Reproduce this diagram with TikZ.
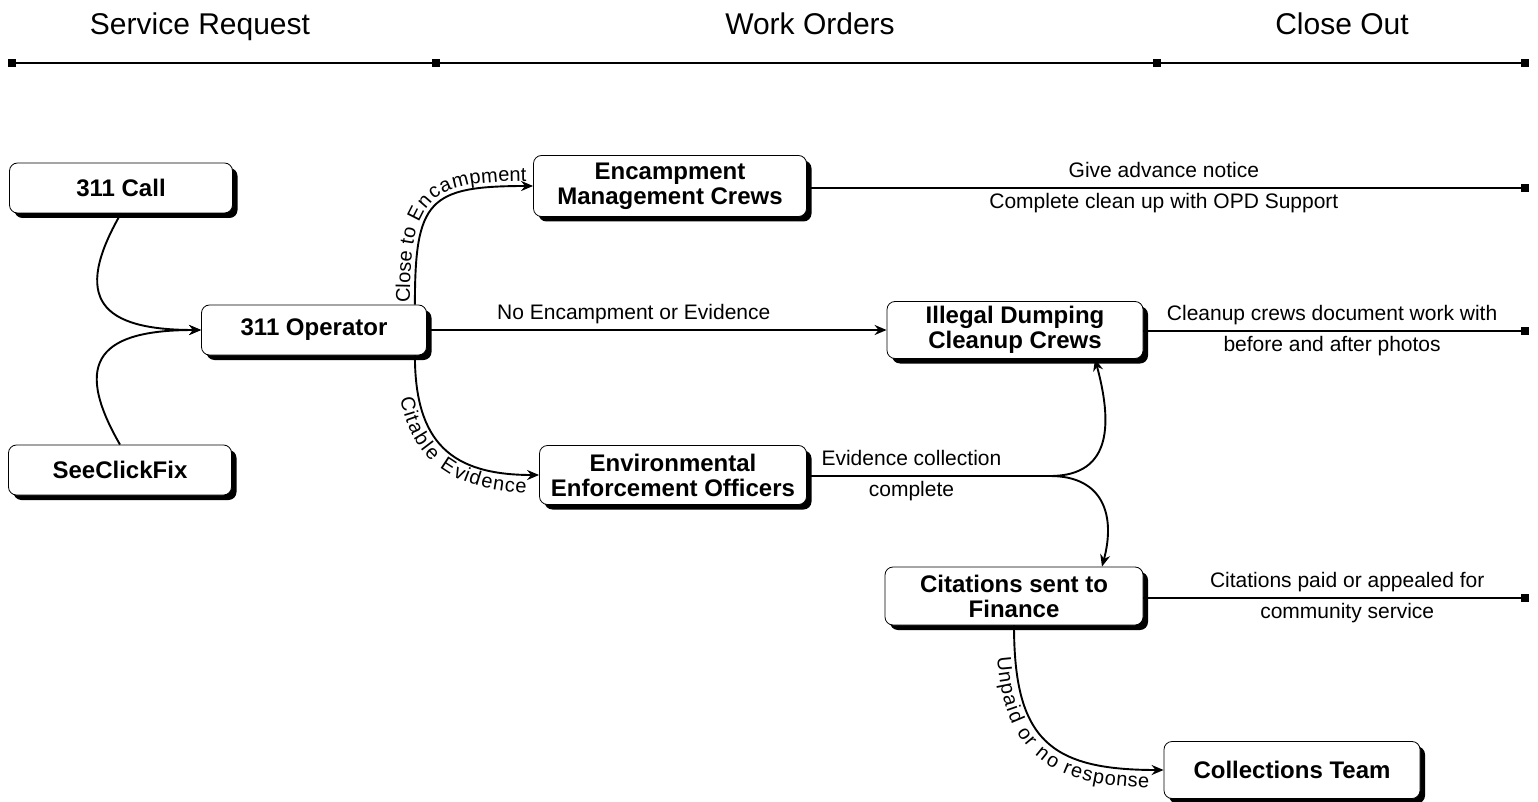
\documentclass[tikz,border=0pt]{standalone}
\usepackage{fontspec}
\setmainfont{Liberation Sans}
\usetikzlibrary{arrows.meta,positioning,shadows,decorations.text}

\newcommand{\boxfont}{\fontsize{24}{25}\selectfont\bfseries}
\newcommand{\lblfont}{\fontsize{21}{23}\selectfont}
\newcommand{\headfont}{\fontsize{30}{32}\selectfont}
\newcommand{\curvefont}{\fontsize{20}{22}\selectfont}

\tikzset{
  stage/.style={draw, rounded corners=8pt, fill=white, line width=0.8pt, align=center, font=\boxfont, inner sep=1pt,
    drop shadow={shadow xshift=5pt, shadow yshift=-5pt, fill=black, opacity=1}},
  marker/.style={rectangle, fill=black, inner sep=0pt, minimum size=8pt},
  flow/.style={line width=1.9pt},
  arr/.style={flow, -{Stealth[length=12pt,width=10pt]}},
  lbl/.style={font=\lblfont, inner sep=5pt, text height=15pt, text depth=5pt},
}

\begin{document}
\begin{tikzpicture}[x=1pt, y=1pt]
    \useasboundingbox (0,0) rectangle (1538,-802);

    % phases along the top
    \node[font=\headfont, anchor=base] (srq) at (200,-35) {Service Request};
    \node[font=\headfont, anchor=base] (wo) at (810,-35) {Work Orders};
    \node[font=\headfont, anchor=base] (co) at (1342,-35) {Close Out};
    \node[marker] (p1) at (12,-63) {};
    \node[marker] (p2) at (436,-63) {};
    \node[marker] (p3) at (1157,-63) {};
    \node[marker] (p4) at (1525,-63) {};
    \draw[flow] (p1) -- (p2) -- (p3) -- (p4);

    % boxes
    \node[stage, minimum width=223pt, minimum height=50pt] (call) at (121,-188) {311 Call};
    \node[stage, minimum width=223pt, minimum height=50pt] (scf) at (120,-470) {SeeClickFix};
    \node[stage, minimum width=225pt, minimum height=50pt] (op) at (314,-330) {311 Operator};
    \node[stage, minimum width=273pt, minimum height=61pt] (emc) at (670,-186) {Encampment\\Management Crews};
    \node[stage, minimum width=267pt, minimum height=59pt] (eeo) at (673,-475) {Environmental\\Enforcement Officers};
    \node[stage, minimum width=256pt, minimum height=57pt] (idc) at (1015,-330) {Illegal Dumping\\Cleanup Crews};
    \node[stage, minimum width=258pt, minimum height=58pt] (cit) at (1014,-596) {Citations sent to\\Finance};
    \node[stage, minimum width=256pt, minimum height=57pt] (ct) at (1292,-770) {Collections Team};

    % end points on the right
    \node[marker] (e1) at (1525,-188) {};
    \node[marker] (e2) at (1525,-331) {};
    \node[marker] (e3) at (1525,-598) {};
    \coordinate (split) at (1050,-476);

    % requests into the operator
    \draw[arr] (call.south) to[out=-120, in=180, looseness=1.8] (op.west);
    \draw[arr] (scf.north) to[out=120, in=180, looseness=1.8] (op.west);

    % operator decisions
    \draw[arr, postaction={decorate, decoration={text along path, text align={left, left indent=2pt}, raise=5pt,
        text={|\curvefont|Close to Encampment}}}]
        ([xshift=-12pt]op.north east) to[out=90, in=180, looseness=1.6] (emc.west);
    \draw[arr] (op) -- (idc) node[lbl, above, pos=0.45] {No Encampment or Evidence};
    \draw[arr, postaction={decorate, decoration={text along path, text align={right, right indent=12pt}, raise=-18pt,
        text={|\curvefont|Citable Evidence}}}]
        ([xshift=-12pt]op.south east) to[out=-90, in=180, looseness=1.3] (eeo.west);

    % close out
    \draw[flow] (emc.east |- e1) -- (e1) node[lbl, above, midway] {Give advance notice}
        node[lbl, below, midway] {Complete clean up with OPD Support};
    \draw[flow] (idc.east |- e2) -- (e2) node[lbl, above, midway] {Cleanup crews document work with}
        node[lbl, below, midway] {before and after photos};
    \draw[flow] (cit.east |- e3) -- (e3) node[lbl, above, pos=0.54] {Citations paid or appealed for}
        node[lbl, below, pos=0.54] {community service};

    % enforcement
    \draw[flow] (eeo.east |- split) -- (split) node[lbl, above, pos=0.43] {Evidence collection}
        node[lbl, below, pos=0.43] {complete};
    \draw[arr] (split) to[out=0, in=-75, looseness=1.3] ([xshift=80pt]idc.south);
    \draw[arr] (split) to[out=0, in=75, looseness=1.3] ([xshift=88pt]cit.north);
    \draw[arr, postaction={decorate, decoration={text along path, text align={right, right indent=14pt}, raise=-18pt,
        text={|\curvefont|Unpaid or no response}}}]
        (cit.south) to[out=-90, in=180, looseness=1.4] (ct.west);
\end{tikzpicture}
\end{document}
